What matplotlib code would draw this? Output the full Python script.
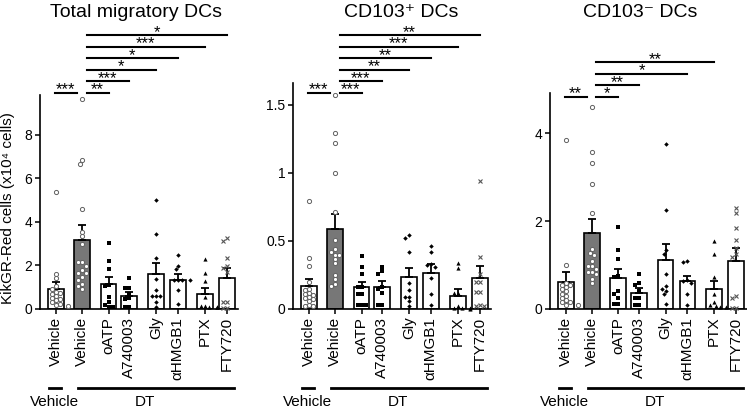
import numpy as np
import matplotlib.pyplot as plt
from matplotlib.transforms import blended_transform_factory

plt.rcParams['font.family'] = ['Liberation Sans', 'DejaVu Sans']

# groups on the x axis (first is Vehicle-treated, the rest DT-treated)
groups = ['Vehicle', 'Vehicle', 'oATP', 'A740003', 'Gly', 'αHMGB1', 'PTX', 'FTY720']
xpos = [0, 1.08, 2.16, 3.0, 4.1, 5.0, 6.1, 7.0]

# --- Total migratory DCs (x10^4 cells)
total_mean = [0.93, 3.18, 1.15, 0.60, 1.59, 1.35, 0.69, 1.42]
total_sem = [0.31, 0.66, 0.30, 0.18, 0.52, 0.27, 0.26, 0.46]
total_pts = [
    [5.35, 1.62, 1.42, 1.05, 0.9, 0.8, 0.75, 0.7, 0.6, 0.5, 0.45, 0.4, 0.3, 0.25, 0.2, 0.15],
    [9.63, 6.82, 6.65, 4.6, 3.53, 3.33, 2.97, 2.14, 2.14, 1.99, 1.8, 1.65, 1.65, 1.47, 1.32, 1.16, 1.04, 0.93],
    [3.05, 2.2, 1.83, 1.1, 1.05, 0.55, 0.3, 0.2, 0.1, 0.1],
    [1.42, 0.95, 0.95, 0.7, 0.5, 0.45, 0.1, 0.1],
    [4.98, 3.44, 2.34, 1.38, 0.89, 0.58, 0.58, 0.58, 0.32, 0.09],
    [2.48, 1.99, 1.83, 1.32, 1.32, 1.32, 1.32, 0.89, 0.24],
    [2.31, 1.65, 1.28, 0.55, 0.15, 0.15, 0.1, 0.1, 0.1],
    [3.25, 3.1, 2.33, 1.96, 1.88, 1.7, 0.32, 0.32, 0.05, 0.05],
]
total_sig = [(0, 1, '***', 0), (1, 2, '**', 0), (1, 3, '***', 1), (1, 4, '*', 2),
             (1, 5, '*', 3), (1, 6, '***', 4), (1, 7, '*', 5)]

# --- CD103+ DCs
cdp_mean = [0.167, 0.588, 0.16, 0.16, 0.233, 0.267, 0.098, 0.225]
cdp_sem = [0.056, 0.112, 0.04, 0.045, 0.067, 0.063, 0.047, 0.089]
cdp_pts = [
    [0.79, 0.375, 0.314, 0.2, 0.15, 0.14, 0.12, 0.11, 0.1, 0.09, 0.08, 0.07, 0.06, 0.03, 0.02, 0.02],
    [1.57, 1.29, 1.22, 1.0, 0.71, 0.51, 0.44, 0.42, 0.40, 0.40, 0.37, 0.34, 0.25, 0.22, 0.18, 0.17],
    [0.39, 0.31, 0.26, 0.16, 0.16, 0.11, 0.11, 0.03, 0.03, 0.03],
    [0.31, 0.28, 0.26, 0.16, 0.15, 0.12, 0.03, 0.03],
    [0.54, 0.52, 0.42, 0.19, 0.14, 0.09, 0.09, 0.06, 0.02],
    [0.46, 0.42, 0.33, 0.32, 0.31, 0.23, 0.11, 0.03],
    [0.34, 0.30, 0.12, 0.12, 0.02, 0.01, 0.01, 0.01, 0.0],
    [0.94, 0.38, 0.26, 0.2, 0.2, 0.125, 0.125, 0.03, 0.02, 0.02],
]
cdp_sig = [(0, 1, '***', 0), (1, 2, '***', 0), (1, 3, '***', 1), (1, 4, '**', 2),
           (1, 5, '**', 3), (1, 6, '***', 4), (1, 7, '**', 5)]

# --- CD103- DCs
cdn_mean = [0.61, 1.73, 0.70, 0.37, 1.12, 0.64, 0.45, 1.09]
cdn_sem = [0.23, 0.32, 0.20, 0.11, 0.36, 0.12, 0.18, 0.30]
cdn_pts = [
    [3.85, 1.0, 0.6, 0.55, 0.55, 0.5, 0.45, 0.4, 0.35, 0.3, 0.25, 0.2, 0.15, 0.15, 0.1, 0.1],
    [4.59, 3.58, 3.33, 2.84, 2.18, 1.37, 1.28, 1.23, 1.1, 0.97, 0.97, 0.92, 0.84, 0.84, 0.79, 0.69, 0.58],
    [1.87, 1.33, 1.13, 0.76, 0.72, 0.42, 0.35, 0.24, 0.12, 0.12],
    [0.8, 0.6, 0.55, 0.4, 0.25, 0.25, 0.08, 0.08],
    [3.75, 2.24, 1.35, 1.26, 0.8, 0.52, 0.45, 0.42, 0.33, 0.12],
    [1.08, 1.06, 0.66, 0.63, 0.6, 0.33, 0.1],
    [1.54, 1.24, 0.73, 0.33, 0.15, 0.08, 0.06, 0.05, 0.05],
    [2.3, 2.18, 1.83, 1.56, 1.39, 1.25, 1.18, 0.29, 0.25, 0.02, 0.02],
]
cdn_sig = [(0, 1, '**', 0), (1, 2, '*', 0), (1, 3, '**', 1), (1, 5, '*', 2), (1, 6, '**', 3)]

titles = ['Total migratory DCs', 'CD103\u207a DCs', 'CD103\u207b DCs']
yticks = [[0, 2, 4, 6, 8], [0, 0.5, 1, 1.5], [0, 2, 4]]
ytlabels = [['0', '2', '4', '6', '8'], ['0', '0.5', '1', '1.5'], ['0', '2', '4']]

# marker style per group
mk = [
    dict(marker='o', ms=3.0, mfc='white', mec='#606060', mew=0.7),
    dict(marker='o', ms=3.0, mfc='white', mec='#606060', mew=0.7),
    dict(marker='s', ms=3.0, mfc='black', mec='black', mew=0),
    dict(marker='s', ms=3.0, mfc='black', mec='black', mew=0),
    dict(marker='D', ms=2.3, mfc='black', mec='black', mew=0),
    dict(marker='D', ms=2.3, mfc='black', mec='black', mew=0),
    dict(marker='^', ms=3.0, mfc='black', mec='black', mew=0),
    dict(marker='x', ms=3.5, mfc='none', mec='#555555', mew=0.8),
]
bar_colors = ['white', '#777777', 'white', 'white', 'white', 'white', 'white', 'white']

W, H = 747, 408
fig = plt.figure(figsize=(W / 100, H / 100), dpi=100)

# layout in pixels: left, top, width, ylim top, title center x, bracket base y
layout = [
    (40, 95, 197.6, 9.82, 136, 92.5),
    (293, 83, 197.6, 1.66, 401, 92.7),
    (550, 93, 197.0, 4.91, 640, 96.7),
]
bottom_px = 309

panels = [
    (total_mean, total_sem, total_pts, total_sig),
    (cdp_mean, cdp_sem, cdp_pts, cdp_sig),
    (cdn_mean, cdn_sem, cdn_pts, cdn_sig),
]


def swarm(ys, d, maxw=6.5):
    placed = []
    out = []
    for y in ys:
        x = 0
        for k in [0, -0.5, 0.5, -1, 1, -1.5, 1.5, -2, 2, -2.5, 2.5, -3, 3]:
            x = k * d
            if abs(x) > maxw:
                continue
            if all((x - px) ** 2 + (y - py) ** 2 >= d * d for px, py in placed):
                break
        placed.append((x, y))
        out.append(x)
    return out


for p, (means, sems, pts, sig) in enumerate(panels):
    left, top, width, ytop, tx, base = layout[p]
    ax = fig.add_axes([left / W, (H - bottom_px) / H, width / W, (bottom_px - top) / H])
    ax.set_xlim(-0.65, 7.45)
    ax.set_ylim(0, ytop)

    ax.bar(xpos, means, width=0.65, color=bar_colors, edgecolor='black', linewidth=1.2, zorder=1)
    ax.errorbar(xpos, means, yerr=[np.zeros(len(sems)), sems], fmt='none', ecolor='black',
                elinewidth=1.3, capsize=2.8, capthick=1.3, zorder=2)

    # scatter the individual points, spread sideways in pixel space
    for i, vals in enumerate(pts):
        disp = ax.transData.transform(np.column_stack([np.full(len(vals), xpos[i]), vals]))
        offs = swarm(disp[:, 1], 4.0)
        disp[:, 0] += offs
        dat = ax.transData.inverted().transform(disp)
        ax.plot(dat[:, 0], vals, linestyle='none', zorder=3, clip_on=False, **mk[i])

    for s in ['top', 'right']:
        ax.spines[s].set_visible(False)
    for s in ['left', 'bottom']:
        ax.spines[s].set_linewidth(1.2)
    ax.set_yticks(yticks[p])
    ax.set_yticklabels(ytlabels[p], fontsize=10)
    ax.set_xticks(xpos)
    ax.set_xticklabels(groups, rotation=90, fontsize=11)
    ax.tick_params(axis='both', length=3.5, width=1.1, pad=2)

    fig.text(tx / W, 1 - 17 / H, titles[p], fontsize=14, ha='center', va='baseline')

    tr = blended_transform_factory(ax.transData, fig.transFigure)
    for a, b, stars, tier in sig:
        yl = base - tier * 11.5
        if a == 0:
            x0, x1 = xpos[0] - 0.05, xpos[1] - 0.22
        else:
            x0, x1 = xpos[a] + 0.18, xpos[b]
        ax.plot([x0, x1], [1 - yl / H] * 2, color='black', lw=1.5, transform=tr, clip_on=False)
        ax.text((x0 + x1) / 2, 1 - (yl + 1.8) / H, stars, fontsize=12, ha='center',
                va='baseline', transform=tr)

    # treatment group bars at the bottom
    ax.plot([-0.3, 0.2], [1 - 388 / H] * 2, color='black', lw=2, transform=tr, clip_on=False)
    ax.plot([0.9, 7.3], [1 - 388 / H] * 2, color='black', lw=2, transform=tr, clip_on=False)
    ax.text(-0.05, 1 - 406 / H, 'Vehicle', fontsize=11, ha='center', va='baseline', transform=tr)
    ax.text(3.65, 1 - 406 / H, 'DT', fontsize=11, ha='center', va='baseline', transform=tr)

fig.text(8 / W, 1 - 208 / H, 'KikGR-Red cells (x10\u2074 cells)', fontsize=11,
         rotation=90, ha='center', va='center')

fig.savefig('out.png', dpi=100, facecolor='white')
